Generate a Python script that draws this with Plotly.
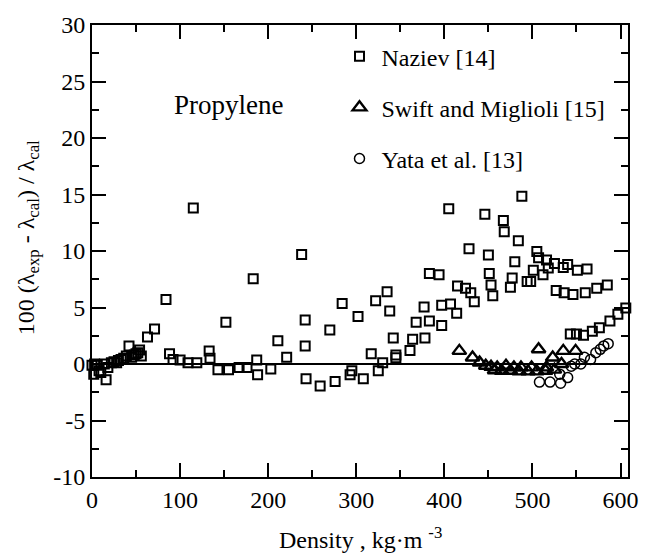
import plotly.graph_objects as go

# ---- data ----
naziev_x = [0, 2, 3, 6, 8, 10, 14, 16, 18, 22, 25, 28, 30, 33, 36, 39, 42, 45, 48, 50,
            52, 54, 56, 63, 71, 84, 88, 92, 100, 109, 115, 119, 133, 134, 143, 152, 155,
            167, 176, 183, 187, 188, 203, 211, 221, 238, 242, 242, 243, 259, 270, 276,
            284, 293, 295, 302, 308, 317, 322, 325, 330, 335, 338, 342, 345, 345, 361,
            364, 368, 377, 378, 383, 383, 394, 397, 397, 405, 407, 414, 415, 424, 428,
            430, 434, 446, 450, 451, 453, 455, 467, 468, 475, 477, 480, 484, 488, 494,
            498, 501, 505, 507, 512, 516, 518, 525, 527, 535, 536, 540, 546, 551, 560,
            562, 573, 585, 543, 550, 558, 568, 576, 588, 597, 606]
naziev_y = [-0.1, -0.9, 0.0, -0.1, -0.6, -0.75, 0.0, -1.4, -0.3, 0.1, 0.2, 0.1, 0.3, 0.4,
            0.5, 0.7, 1.6, 0.6, 0.8, 0.9, 1.0, 1.25, 0.7, 2.4, 3.1, 5.7, 0.9, 0.4, 0.35,
            0.1, 13.8, 0.1, 1.16, 0.5, -0.5, 3.7, -0.5, -0.3, -0.3, 7.55, 0.35, -0.95,
            -0.45, 2.05, 0.6, 9.7, 3.9, 1.6, -1.3, -1.95, 3.0, -1.55, 5.35, -0.95, -0.6,
            4.2, -1.3, 0.9, 5.6, -0.6, 0.1, 6.4, 4.7, 2.3, 0.55, 0.8, 1.2, 2.2, 3.7, 5.05,
            2.3, 3.8, 8.0, 7.9, 5.2, 3.4, 13.75, 5.3, 4.5, 6.9, 6.7, 10.2, 6.3, 5.5,
            13.25, 9.65, 8.0, 7.0, 6.05, 12.7, 11.7, 6.8, 7.6, 9.05, 10.9, 14.85, 7.3,
            7.3, 8.3, 9.95, 9.4, 7.9, 9.2, 8.5, 8.9, 6.5, 8.55, 6.3, 8.8, 6.15, 8.3, 6.3,
            8.4, 6.7, 7.0, 2.65, 2.65, 2.55, 2.9, 3.2, 3.8, 4.4, 4.95]

swift_x = [417, 432, 440, 447, 453, 457, 460, 465, 470, 475, 479, 485, 487, 495, 499,
           505, 507, 515, 516, 523, 525, 533, 535, 549]
swift_y = [1.16, 0.57, 0.13, -0.16, -0.25, -0.55, -0.3, -0.6, -0.16, -0.6, -0.3, -0.65,
           -0.3, -0.65, -0.3, -0.65, 1.31, -0.6, -0.3, 0.57, -0.5, 0.0, 1.16, 1.16]

yata_x = [508, 520, 531, 532, 540, 544, 548, 555, 559, 566, 572, 577, 581, 586]
yata_y = [-1.6, -1.6, -0.9, -1.7, -1.2, -0.2, 0.0, 0.0, 0.6, 0.4, 1.0, 1.3, 1.6, 1.8]

legend_names = ["Naziev [14]", "Swift and Miglioli [15]", "Yata et al. [13]"]

x_ticks = [0, 100, 200, 300, 400, 500, 600]
y_ticks = [-10, -5, 0, 5, 10, 15, 20, 25, 30]

FONT = "Liberation Serif"

fig = go.Figure()
fig.add_trace(go.Scatter(
    x=naziev_x, y=naziev_y, mode="markers", name=legend_names[0], legendgroup="a",
    cliponaxis=False,
    marker=dict(symbol="square-open", size=9, color="black", line=dict(width=2, color="black"))))
fig.add_trace(go.Scatter(
    x=swift_x, y=swift_y, mode="markers", name=legend_names[1], legendgroup="b",
    cliponaxis=False,
    marker=dict(symbol="triangle-up-open", size=12, color="black", line=dict(width=2.4, color="black"))))
fig.add_trace(go.Scatter(
    x=yata_x, y=yata_y, mode="markers", name=legend_names[2], legendgroup="c",
    cliponaxis=False,
    marker=dict(symbol="circle-open", size=10, color="black", line=dict(width=1.5, color="black"))))

axis_common = dict(
    showline=True, linecolor="black", linewidth=2, mirror="ticks",
    ticks="inside", tickcolor="black", tickwidth=1.8, ticklen=14,
    showgrid=False, tickfont=dict(family=FONT, size=24, color="black"),
)

fig.update_xaxes(
    range=[0, 608.5], tickvals=x_ticks, ticktext=[str(v) for v in x_ticks],
    minor=dict(ticks="inside", dtick=50, ticklen=7, tickwidth=1.8, tickcolor="black", showgrid=False),
    zeroline=False, **axis_common)
fig.update_yaxes(
    range=[-10, 30], tickvals=y_ticks, ticktext=[str(v) for v in y_ticks],
    minor=dict(ticks="inside", dtick=2.5, ticklen=7, tickwidth=1.8, tickcolor="black", showgrid=False),
    zeroline=True, zerolinecolor="black", zerolinewidth=1.6, **axis_common)

fig.update_layout(
    width=650, height=556,
    margin=dict(l=92, r=13, t=22, b=79),
    paper_bgcolor="white", plot_bgcolor="white",
    showlegend=True,
    legend=dict(x=0.458, y=0.98, xanchor="left", yanchor="top", bgcolor="rgba(0,0,0,0)",
                font=dict(family=FONT, size=24, color="black"), tracegroupgap=17,
                itemsizing="trace", itemwidth=34),
    annotations=[
        dict(text="Propylene", x=155, y=22.9, xref="x", yref="y", showarrow=False,
             font=dict(family=FONT, size=27, color="black")),
        dict(text="Density , kg·m <sup>-3</sup>", x=0.5, y=-0.135, xref="paper", yref="paper",
             xanchor="center", yanchor="middle", showarrow=False,
             font=dict(family=FONT, size=24, color="black")),
        dict(text="100 (λ<sub>exp</sub> - λ<sub>cal</sub>) / λ<sub>cal</sub>", textangle=-90,
             x=-0.118, y=0.53, xref="paper", yref="paper", xanchor="center", yanchor="middle",
             showarrow=False, font=dict(family=FONT, size=24, color="black")),
    ],
)

fig.write_html("out.html")
